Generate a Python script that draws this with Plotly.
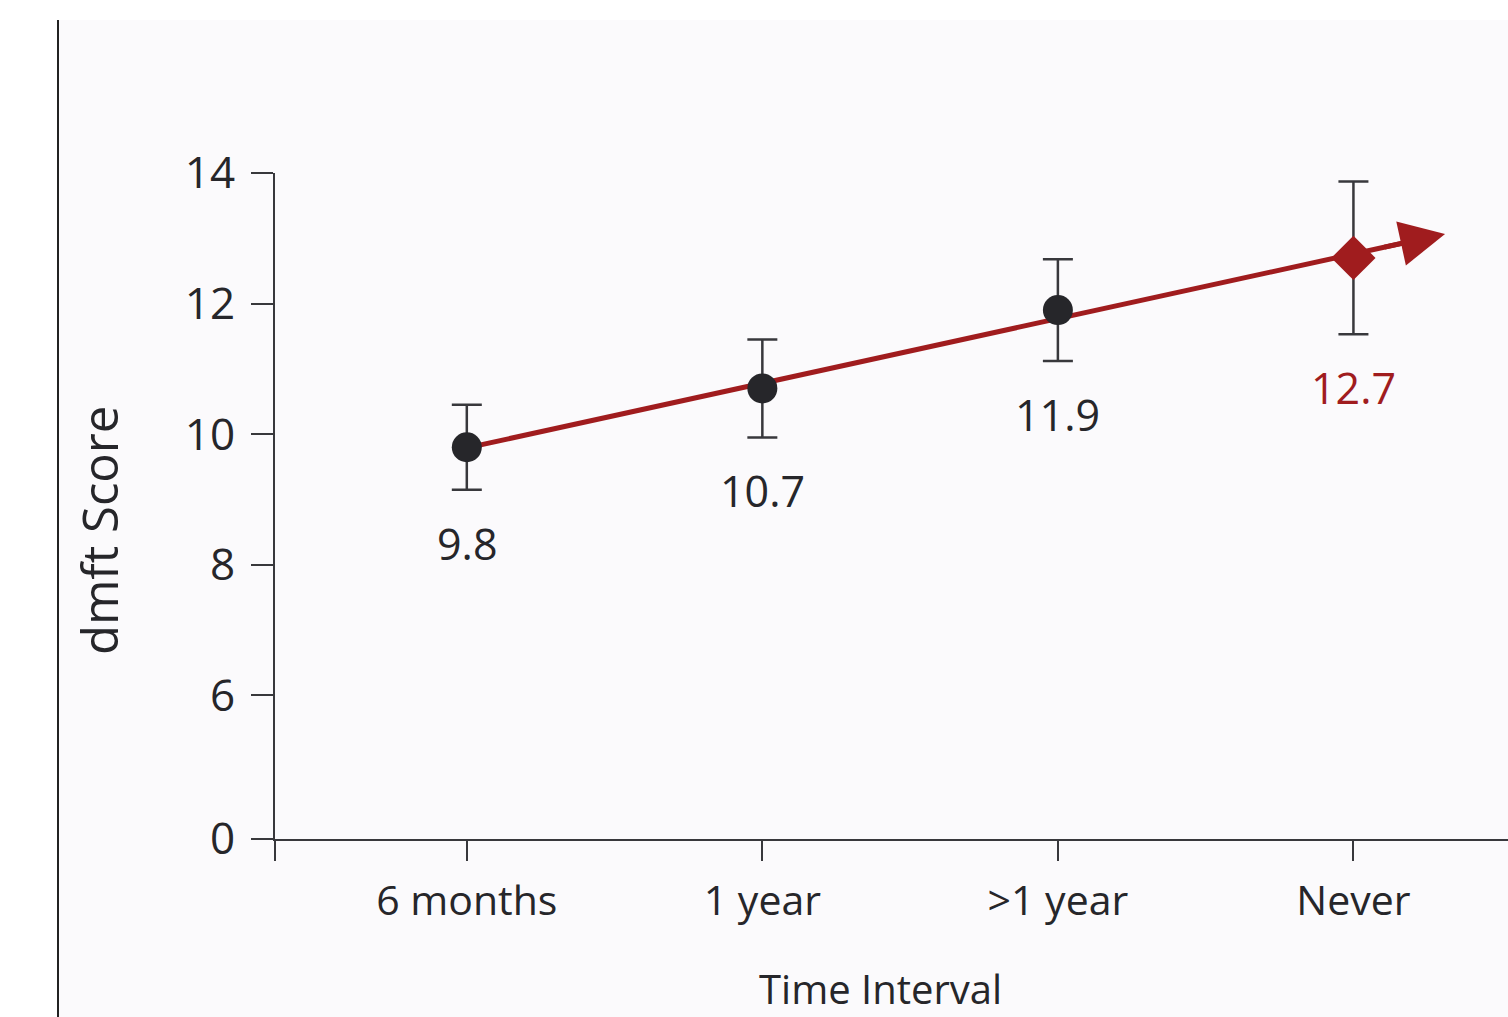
import numpy as np
import plotly.graph_objects as go

# ---- data ----
categories = ["6 months", "1 year", ">1 year", "Never"]
dmft_mean = [9.8, 10.7, 11.9, 12.7]
dmft_err = [0.65, 0.75, 0.78, 1.17]

# broken y axis: the zero label sits just below the 6 tick
y_tick_vals = [3.8, 6, 8, 10, 12, 14]
y_tick_text = ["0", "6", "8", "10", "12", "14"]

# ---- styling ----
FONT = "Open Sans"
INK = "#26262a"
RED = "#a01c1e"
PANEL = "#fbfafc"
AXIS = "#38383c"

W, H = 1508, 1017
M_L, M_R, M_T, M_B = 275, 0, 173, 178
X_RANGE = [-0.649, 3.523]
Y_RANGE = [3.8, 14]

x_idx = list(range(len(categories)))
regular = x_idx[:-1]
last = x_idx[-1]

# least-squares trend across all visit intervals, extended past the last group
slope, intercept = np.polyfit(x_idx, dmft_mean, 1)
trend_x = [0, 3.31]
trend_y = [intercept + slope * t for t in trend_x]
shaft_end_x = 3.2
head_tail_x = 3.1

fig = go.Figure()

# trend shaft (beneath the markers)
fig.add_trace(go.Scatter(
    x=[trend_x[0], shaft_end_x],
    y=[trend_y[0], intercept + slope * shaft_end_x],
    mode="lines",
    line=dict(color=RED, width=5),
    hoverinfo="skip", showlegend=False,
))

fig.add_trace(go.Scatter(
    x=regular, y=[dmft_mean[i] for i in regular],
    mode="markers",
    marker=dict(symbol="circle", size=30, color=INK),
    error_y=dict(type="data", array=[dmft_err[i] for i in regular],
                 color=AXIS, thickness=2.5, width=15),
    showlegend=False,
))

fig.add_trace(go.Scatter(
    x=[last], y=[dmft_mean[last]],
    mode="markers",
    marker=dict(symbol="diamond", size=34, color=RED),
    error_y=dict(type="data", array=[dmft_err[last]],
                 color=AXIS, thickness=2.5, width=15),
    showlegend=False,
))

# arrow head at the end of the trend
fig.add_annotation(
    x=trend_x[1], y=trend_y[1],
    ax=head_tail_x, ay=intercept + slope * head_tail_x,
    xref="x", yref="y", axref="x", ayref="y",
    text="", showarrow=True,
    arrowhead=2, arrowsize=1.8, arrowwidth=5, arrowcolor=RED, standoff=0,
)

# value labels under each error bar
for i in x_idx:
    fig.add_annotation(
        x=i, y=dmft_mean[i] - dmft_err[i],
        text=f"{dmft_mean[i]:.1f}",
        showarrow=False, yanchor="top", yshift=-22,
        font=dict(family=FONT, size=43, color=RED if i == last else INK),
    )

plot_w = W - M_L - M_R
plot_h = H - M_T - M_B
px_x = lambda p: (p - M_L) / plot_w
px_y = lambda p: (H - M_B - p) / plot_h

# axis titles
fig.add_annotation(
    text="dmft Score", textangle=-90,
    xref="paper", yref="paper", x=px_x(99), y=px_y(531),
    xanchor="center", yanchor="middle",
    showarrow=False, font=dict(family=FONT, size=49, color=INK),
)
fig.add_annotation(
    text="Time Interval",
    xref="paper", yref="paper", x=px_x(880), y=px_y(988),
    xanchor="center", yanchor="middle",
    showarrow=False, font=dict(family=FONT, size=40, color=INK),
)

# page panel with its left rule
fig.add_shape(type="rect", xref="paper", yref="paper",
              x0=px_x(58), x1=px_x(W + 5), y0=px_y(H + 5), y1=px_y(20),
              fillcolor=PANEL, line=dict(width=0), layer="below")
fig.add_shape(type="line", xref="paper", yref="paper",
              x0=px_x(58), x1=px_x(58), y0=px_y(H + 5), y1=px_y(20),
              line=dict(color="#222222", width=2))

fig.update_layout(
    width=W, height=H,
    margin=dict(l=M_L, r=M_R, t=M_T, b=M_B),
    paper_bgcolor="white",
    plot_bgcolor=PANEL,
    font=dict(family=FONT, color=INK),
    xaxis=dict(
        range=X_RANGE,
        tickmode="array",
        tickvals=[X_RANGE[0] + 0.001] + x_idx,
        ticktext=[""] + categories,
        ticks="outside", ticklen=20, tickwidth=2, tickcolor=AXIS,
        showline=True, linecolor=AXIS, linewidth=2,
        showgrid=False, zeroline=False,
        tickfont=dict(family=FONT, size=41, color=INK),
        ticklabelstandoff=5,
    ),
    yaxis=dict(
        range=Y_RANGE,
        tickmode="array",
        tickvals=y_tick_vals,
        ticktext=y_tick_text,
        ticks="outside", ticklen=22, tickwidth=2, tickcolor=AXIS,
        showline=True, linecolor=AXIS, linewidth=2,
        showgrid=False, zeroline=False,
        tickfont=dict(family=FONT, size=44, color=INK),
        ticklabelstandoff=7,
    ),
)

fig.write_html("out.html")
